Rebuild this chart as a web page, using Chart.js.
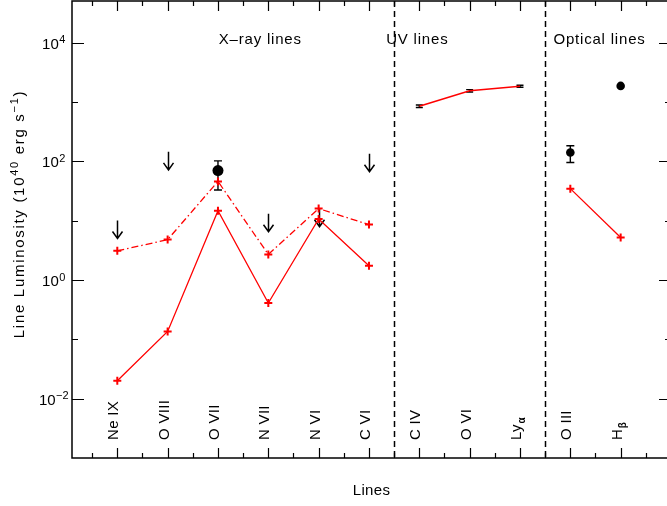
<!DOCTYPE html>
<html><head><meta charset="utf-8">
<script src="https://cdn.jsdelivr.net/npm/chart.js@4.4.1/dist/chart.umd.min.js"></script>
<style>
html,body{margin:0;padding:0;background:#fff;overflow:hidden}
#wrap{width:672px;height:506px}
</style></head><body>
<div id="wrap"><canvas id="ch"></canvas></div>
<script>
// emission lines along x (1 = Ne IX ... 11 = H beta)
const lineX = [1, 2, 3, 4, 5, 6, 7, 8, 9, 10, 11];
const lineBase = ["Ne IX", "O VIII", "O VII", "N VII", "N VI", "C VI", "C IV", "O VI", "Ly", "O III", "H"];
const lineSub = ["", "", "", "", "", "", "", "", "α", "", "β"];

// model luminosities (10^40 erg/s)
const xrayX = [1, 2, 3, 4, 5, 6];
const xrayModelA = [0.02, 0.136, 14.7, 0.41, 10.7, 1.74];   // solid
const xrayModelB = [3.1, 4.8, 46, 2.7, 16, 8.6];            // dash-dot
const uvX = [7, 8, 9];
const uvModel = [850, 1550, 1850];
const optX = [10, 11];
const optModel = [34.7, 5.2];

// observed values
const obsX = [3, 10, 11];
const obsVal = [70, 141, 1870];
const obsSize = [5.5, 4.3, 4.3];
const errX = [3, 10, 7, 8, 9];
const errLo = [33, 96, 810, 1480, 1780];
const errHi = [102, 183, 890, 1620, 1920];

// upper limits
const limX = [1, 2, 4, 5, 6];
const limVal = [5.0, 72, 6.5, 7.9, 67];

// axes
const yMajor = [1e-2, 1e0, 1e2, 1e4];
const yMajorExp = ["−2", "0", "2", "4"];
const yMinor = [1e-1, 1e1, 1e3];
const groupNames = ["X–ray lines", "UV lines", "Optical lines"];
const groupX = [3.84, 6.96, 10.58];
const groupSep = [6.5, 9.5];

const RED = "#ff0000";
const FONT = "'Liberation Sans', Arial, sans-serif";

const pts = (xs, ys) => xs.map((x, i) => ({ x, y: ys[i] }));

function txt(ctx, s, x, y, size, sp, bold) {
  ctx.font = (bold ? "bold " : "") + size + "px " + FONT;
  ctx.letterSpacing = (sp || 0) + "px";
  ctx.fillText(s, x, y);
  const w = ctx.measureText(s).width;
  ctx.letterSpacing = "0px";
  return w;
}
function wid(ctx, s, size, sp, bold) {
  ctx.font = (bold ? "bold " : "") + size + "px " + FONT;
  ctx.letterSpacing = (sp || 0) + "px";
  const w = ctx.measureText(s).width;
  ctx.letterSpacing = "0px";
  return w;
}

const deco = {
  id: "deco",
  beforeDatasetsDraw(c) {
    const { ctx, chartArea: a, scales: { x, y } } = c;
    ctx.save();
    ctx.strokeStyle = "#000";
    // group separators
    ctx.lineWidth = 1.5; ctx.setLineDash([6, 4]);
    groupSep.forEach(v => {
      const px = Math.round(x.getPixelForValue(v)) + 0.5;
      ctx.beginPath(); ctx.moveTo(px, a.top); ctx.lineTo(px, a.bottom); ctx.stroke();
    });
    ctx.setLineDash([]);
    // error bars
    ctx.lineWidth = 1.4;
    errX.forEach((v, i) => {
      const px = x.getPixelForValue(v), y1 = y.getPixelForValue(errLo[i]), y2 = y.getPixelForValue(errHi[i]);
      const hw = i < 2 ? 4 : 3.5;
      ctx.beginPath();
      ctx.moveTo(px, y1); ctx.lineTo(px, y2);
      ctx.moveTo(px - hw, y1); ctx.lineTo(px + hw, y1);
      ctx.moveTo(px - hw, y2); ctx.lineTo(px + hw, y2);
      ctx.stroke();
    });
    // upper-limit arrows
    ctx.lineWidth = 1.5;
    limX.forEach((v, i) => {
      const px = Math.round(x.getPixelForValue(v)) + 0.5, py = y.getPixelForValue(limVal[i]);
      ctx.beginPath();
      ctx.moveTo(px, py - 18); ctx.lineTo(px, py);
      ctx.moveTo(px - 5, py - 7); ctx.lineTo(px, py); ctx.lineTo(px + 5, py - 7);
      ctx.stroke();
    });
    ctx.restore();
  },
  afterDraw(c) {
    const { ctx, chartArea: a, scales: { x, y } } = c;
    ctx.save();
    ctx.strokeStyle = "#000"; ctx.fillStyle = "#000";
    // frame
    ctx.lineWidth = 1.5;
    ctx.strokeRect(a.left, a.top, a.right - a.left, a.bottom - a.top);
    // x ticks
    ctx.lineWidth = 1.2;
    for (let v = 0.5; v < 12; v += 0.5) {
      const px = Math.round(x.getPixelForValue(v)) + 0.5, L = Number.isInteger(v) ? 10 : 5;
      ctx.beginPath();
      ctx.moveTo(px, a.bottom); ctx.lineTo(px, a.bottom - L);
      ctx.moveTo(px, a.top); ctx.lineTo(px, a.top + L);
      ctx.stroke();
    }
    // y ticks
    const yt = (v, L) => {
      const py = Math.round(y.getPixelForValue(v)) + 0.5;
      ctx.beginPath();
      ctx.moveTo(a.left, py); ctx.lineTo(a.left + L, py);
      ctx.moveTo(a.right, py); ctx.lineTo(a.right - L, py);
      ctx.stroke();
    };
    yMajor.forEach(v => yt(v, 12));
    yMinor.forEach(v => yt(v, 6));
    // y tick labels
    ctx.textAlign = "left"; ctx.textBaseline = "alphabetic";
    yMajor.forEach((v, i) => {
      const py = y.getPixelForValue(v);
      const w = wid(ctx, "10", 15) + wid(ctx, yMajorExp[i], 11);
      const x0 = 53.5 - w / 2;
      const w10 = txt(ctx, "10", x0, py + 6, 15);
      txt(ctx, yMajorExp[i], x0 + w10 + 0.5, py + 0.5, 11);
    });
    // group titles
    ctx.textAlign = "center";
    groupNames.forEach((s, i) => txt(ctx, s, x.getPixelForValue(groupX[i]), a.top + 43, 15, 0.8));
    // x title
    txt(ctx, "Lines", (a.left + a.right) / 2, 495, 15, 0.3);
    // line names, rotated
    ctx.textAlign = "left";
    lineX.forEach((v, i) => {
      ctx.save();
      ctx.translate(x.getPixelForValue(v) + 1, a.bottom - 18);
      ctx.rotate(-Math.PI / 2);
      const w = txt(ctx, lineBase[i], 0, 0, 15, 0.3);
      if (lineSub[i]) txt(ctx, lineSub[i], w + 0.5, 4, 10, 0, true);
      ctx.restore();
    });
    // y title, rotated, with superscripts
    const parts = [["Line Luminosity (10", 0], ["40", 1], [" erg s", 0], ["−1", 1], [")", 0]];
    const sp = 1.7;
    let total = 0;
    parts.forEach(p => total += wid(ctx, p[0], p[1] ? 11 : 15, sp));
    ctx.save();
    ctx.translate(23.5, 214 + total / 2);
    ctx.rotate(-Math.PI / 2);
    let cx = 0;
    parts.forEach(p => { cx += txt(ctx, p[0], cx, p[1] ? -6 : 0, p[1] ? 11 : 15, sp); });
    ctx.restore();
    ctx.restore();
  }
};

const plus = { pointStyle: "cross", pointRadius: 4, pointBorderWidth: 2, pointBorderColor: RED, pointBackgroundColor: RED };

new Chart(document.getElementById("ch"), {
  type: "line",
  data: {
    datasets: [
      { label: "Observed", data: pts(obsX, obsVal), showLine: false, pointStyle: "circle",
        pointRadius: obsSize, pointBackgroundColor: "#000", pointBorderColor: "#000", pointBorderWidth: 0 },
      { label: "X-ray model A", data: pts(xrayX, xrayModelA), borderColor: RED, borderWidth: 1.3, ...plus },
      { label: "X-ray model B", data: pts(xrayX, xrayModelB), borderColor: RED, borderWidth: 1.3, borderDash: [7, 3, 1.5, 3], ...plus },
      { label: "UV model", data: pts(uvX, uvModel), borderColor: RED, borderWidth: 1.5, pointRadius: 0 },
      { label: "Optical model", data: pts(optX, optModel), borderColor: RED, borderWidth: 1.3, ...plus }
    ]
  },
  options: {
    responsive: true, maintainAspectRatio: false, animation: false,
    layout: { autoPadding: false, padding: { left: 72, top: 1, right: 1, bottom: 48 } },
    plugins: { legend: { display: false }, tooltip: { enabled: false } },
    elements: { line: { tension: 0, fill: false } },
    scales: {
      x: { type: "linear", min: 0.1, max: 12, display: false },
      y: { type: "logarithmic", min: 1e-3, max: 5.05e4, display: false }
    }
  },
  plugins: [deco]
});
</script>
</body></html>
